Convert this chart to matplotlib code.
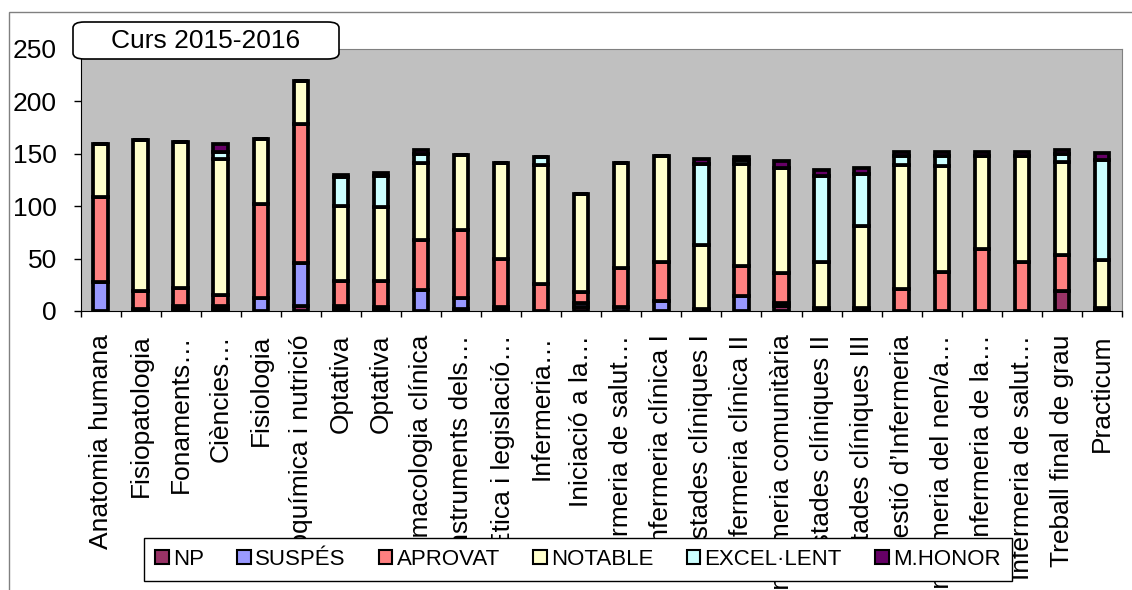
import numpy as np
import matplotlib.pyplot as plt
from matplotlib.patches import FancyBboxPatch, Rectangle

plt.rcParams['font.family'] = ['Liberation Sans', 'DejaVu Sans']

# Assignatures (eix x)
assignatures = ['Anatomia humana', 'Fisiopatologia', 'Fonaments…', 'Ciències…',
                'Fisiologia', 'Bioquímica i nutrició', 'Optativa', 'Optativa',
                'Farmacologia clínica', 'Instruments dels…', 'Ètica i legislació…',
                'Infermeria…', 'Iniciació a la…', 'Infermeria de salut…',
                'Infermeria clínica I', 'Estades clíniques I', 'Infermeria clínica II',
                'Infermeria comunitària', 'Estades clíniques II', 'Estades clíniques III',
                'Gestió d\u2019Infermeria', 'Infermeria del nen/a…', 'Infermeria de la…',
                'Infermeria de salut…', 'Treball final de grau', 'Practicum']

# Nombre d'alumnes per qualificació
np_ = [0, 0, 2, 2, 0, 5, 2, 1, 0, 2, 1, 0, 4, 0, 0, 0, 0, 5, 0, 0, 0, 0, 0, 0, 19, 0]
suspes = [28, 2, 3, 3, 12, 41, 3, 3, 20, 10, 3, 0, 4, 4, 10, 1, 14, 3, 1, 1, 0, 0, 0, 0, 0, 1]
aprovat = [81, 17, 17, 10, 90, 132, 24, 25, 48, 65, 46, 26, 10, 37, 37, 1, 29, 28, 2, 2, 21, 37, 59, 47, 34, 2]
notable = [50, 144, 139, 130, 62, 41, 71, 70, 73, 72, 91, 113, 94, 100, 101, 61, 97, 100, 44, 78, 118, 101, 89, 101, 89, 46]
excellent = [0, 0, 0, 7, 0, 0, 28, 30, 9, 0, 0, 8, 0, 0, 0, 77, 4, 0, 82, 50, 9, 10, 0, 0, 8, 95]
mhonor = [0, 0, 0, 7, 0, 0, 2, 3, 4, 0, 0, 0, 0, 0, 0, 5, 3, 7, 6, 5, 4, 4, 4, 4, 4, 7]

series = [np_, suspes, aprovat, notable, excellent, mhonor]
noms = ['NP', 'SUSPÉS', 'APROVAT', 'NOTABLE', 'EXCEL·LENT', 'M.HONOR']
colors = ['#993366', '#9999FF', '#FF8080', '#FFFFCC', '#CCFFFF', '#660066']

W, H = 1132, 590
fig = plt.figure(figsize=(W / 100, H / 100), dpi=100)

# marc exterior del gràfic
fig.patches.append(Rectangle((9 / W, -0.1), 1.2, 1.1 - 12 / H, transform=fig.transFigure,
                             facecolor='none', edgecolor='#808080', linewidth=1))

ax = fig.add_axes([80.5 / W, 1 - 311 / H, (1122 - 80.5) / W, (311 - 49) / H])
ax.set_facecolor('#C0C0C0')

x = np.arange(len(assignatures))
base = np.zeros(len(assignatures))
barres = []
for vals, nom, c in zip(series, noms, colors):
    b = ax.bar(x, vals, 0.36, bottom=base, color=c, edgecolor='black',
               linewidth=2.7, label=nom, zorder=3)
    barres.append(b)
    base = base + np.array(vals)

ax.set_xlim(-0.5, len(assignatures) - 0.5)
ax.set_ylim(0, 250)
ax.set_yticks([0, 50, 100, 150, 200, 250])
ax.tick_params(axis='y', direction='out', length=5, width=1, pad=12, labelsize=19)

ax.set_xticks(x)
ax.set_xticklabels(assignatures, rotation=90, fontsize=19, va='top', ha='center')
ax.tick_params(axis='x', which='major', length=0, pad=17)
ax.set_xticks(np.arange(len(assignatures) + 1) - 0.5, minor=True)
ax.tick_params(axis='x', which='minor', direction='out', length=4.5, width=1)

ax.spines['left'].set_color('black')
ax.spines['bottom'].set_color('black')
ax.spines['top'].set_color('#808080')
ax.spines['right'].set_color('#808080')

# Títol dins d'una caixa arrodonida
caixa = FancyBboxPatch((73 / W, 1 - 59 / H), (339 - 73) / W, 37 / H,
                       boxstyle='round,pad=0,rounding_size=0.01',
                       transform=fig.transFigure, facecolor='white',
                       edgecolor='black', linewidth=1.2, zorder=10)
fig.patches.append(caixa)
fig.text(206 / W, 1 - 41 / H, 'Curs 2015-2016', fontsize=19, ha='center',
         va='center', zorder=11)

# Llegenda
leg = fig.legend(handles=barres, labels=noms, loc='center', ncol=6,
                 bbox_to_anchor=(578 / W, 1 - 559.5 / H), fontsize=16,
                 frameon=True, fancybox=False, edgecolor='black', framealpha=1,
                 handlelength=0.6, handleheight=0.6, handletextpad=0.2,
                 columnspacing=1.5, borderpad=0.5)
leg.get_frame().set_linewidth(1)
for h in leg.legend_handles:
    h.set_linewidth(1.5)

fig.savefig('out.png', dpi=100)
